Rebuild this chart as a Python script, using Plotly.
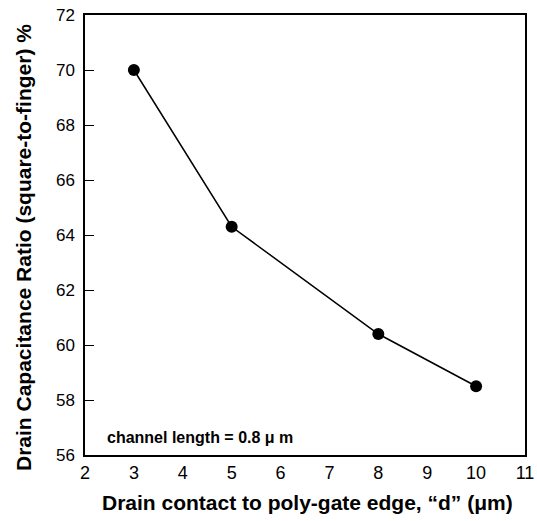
import plotly.graph_objects as go

x_vals = [3, 5, 8, 10]
y_vals = [70.0, 64.3, 60.4, 58.5]
x_ticks = [2, 3, 4, 5, 6, 7, 8, 9, 10, 11]
y_ticks = [56, 58, 60, 62, 64, 66, 68, 70, 72]

W, H = 537, 521
L, R, T, B = 85, 12, 15, 66
pw, ph = W - L - R, H - T - B

fig = go.Figure()
fig.add_trace(go.Scatter(
    x=x_vals, y=y_vals, mode="lines+markers",
    line=dict(color="black", width=1.5),
    marker=dict(color="black", size=12),
    showlegend=False,
))

font_family = "Liberation Sans, Arial, sans-serif"
fig.update_layout(
    width=W, height=H,
    margin=dict(l=L, r=R, t=T, b=B, autoexpand=False),
    paper_bgcolor="white", plot_bgcolor="white",
    font=dict(family=font_family, color="black", size=16),
    xaxis=dict(
        range=[2, 11], tickvals=x_ticks, ticks="", ticklabelstandoff=1,
        automargin=False,
        showline=True, linecolor="black", linewidth=1.5, mirror=True,
        showgrid=False, zeroline=False,
        tickfont=dict(size=18),
    ),
    yaxis=dict(
        range=[56, 72], tickvals=y_ticks, ticks="inside", ticklen=9,
        automargin=False,
        tickcolor="black", tickwidth=1, ticklabelstandoff=5,
        showline=True, linecolor="black", linewidth=1.5, mirror=True,
        showgrid=False, zeroline=False,
        tickfont=dict(size=17),
    ),
)
# Y axis title
fig.add_annotation(
    x=(23 - L) / pw, y=(H - B - 248) / ph, xref="paper", yref="paper",
    xanchor="center", yanchor="middle",
    showarrow=False, textangle=-90,
    text="<b>Drain Capacitance Ratio (square-to-finger) %</b>",
    font=dict(size=21, family=font_family),
)
# X axis title
fig.add_annotation(
    x=(307 - L) / pw, y=(H - B - 502) / ph, xref="paper", yref="paper",
    xanchor="center", yanchor="middle",
    showarrow=False,
    text="<b>Drain contact to poly-gate edge, “d” (μm)</b>",
    font=dict(size=21, family=font_family),
)
fig.add_annotation(
    x=(105 - L) / pw, y=(H - B - 437) / ph, xref="paper", yref="paper",
    xanchor="left", yanchor="middle",
    text="<b>channel length = 0.8 μ m</b>", showarrow=False,
    font=dict(size=16, family=font_family),
)
fig.write_html("out.html")
